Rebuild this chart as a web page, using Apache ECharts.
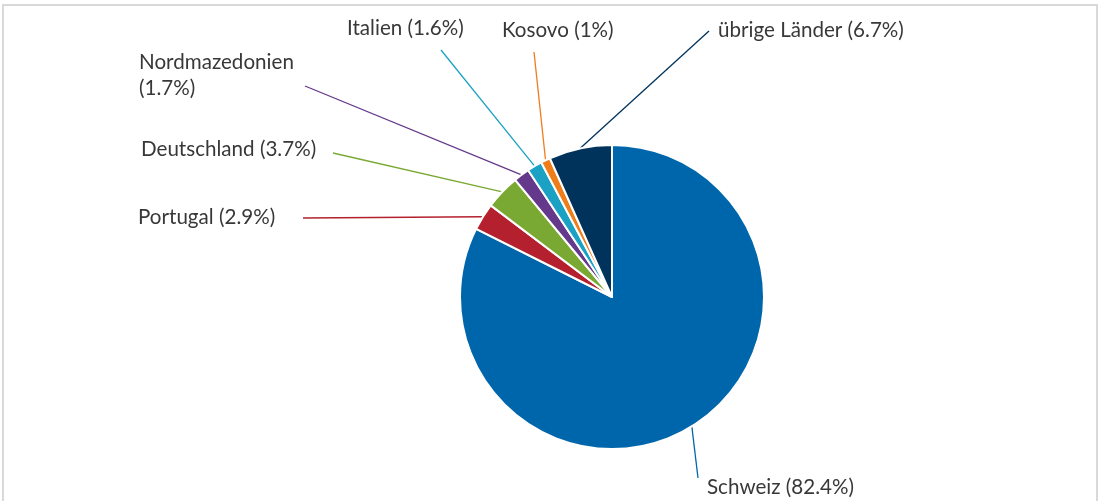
<!DOCTYPE html>
<html>
<head>
<meta charset="utf-8">
<script src="https://cdn.jsdelivr.net/npm/echarts@6/dist/echarts.min.js"></script>
<style>
  html, body { margin: 0; padding: 0; background: #fff; }
  #chart { width: 1105px; height: 501px; }
</style>
</head>
<body>
<div id="chart"></div>
<script>
// Anteile nach Land (%)
var laender = ['Schweiz', 'Portugal', 'Deutschland', 'Nordmazedonien', 'Italien', 'Kosovo', 'übrige Länder'];
var anteile = [82.4, 2.9, 3.7, 1.7, 1.6, 1, 6.7];
var farben = ['#0066AB', '#B5202E', '#79A932', '#64388B', '#1BA1C3', '#EE7D1A', '#00335B'];

// Beschriftungen: linke Kante / Mitte, Endpunkt der Führungslinie
var labelPos = [
    { x: 707, y: 487, lx: 698, ly: 478 },
    { x: 138, y: 217, lx: 303, ly: 218 },
    { x: 141, y: 149, lx: 333, ly: 153 },
    { x: 139, y: 75,  lx: 305, ly: 86 },
    { x: 347, y: 28,  lx: 441, ly: 50 },
    { x: 502, y: 30,  lx: 534, ly: 52 },
    { x: 718, y: 30,  lx: 709, ly: 31 }
];

var daten = [];
for (var i = 0; i < laender.length; i++) {
    daten.push({
        name: laender[i],
        value: anteile[i],
        itemStyle: { color: farben[i] },
        labelLine: { lineStyle: { color: farben[i] } }
    });
}

var myChart = echarts.init(document.getElementById('chart'));
var option = {
    animation: false,
    graphic: [{
        type: 'rect',
        shape: { x: 3, y: 5, width: 1094, height: 520 },
        style: { fill: 'none', stroke: '#d9d9d9', lineWidth: 2 },
        silent: true
    }],
    series: [{
        type: 'pie',
        center: [612, 297],
        radius: 152,
        startAngle: 90,
        clockwise: true,
        avoidLabelOverlap: false,
        itemStyle: { borderColor: '#fff', borderWidth: 2 },
        label: {
            show: true,
            fontFamily: 'Lato',
            fontSize: 20.6,
            color: '#383838',
            lineHeight: 26,
            formatter: function (p) {
                // Nordmazedonien auf zwei Zeilen
                return p.name + (p.dataIndex === 3 ? '\n' : ' ') + '(' + p.value + '%)';
            }
        },
        labelLine: { show: true, length: 10, length2: 10, lineStyle: { width: 1.3 } },
        labelLayout: function (params) {
            var pos = labelPos[params.dataIndex];
            var start = params.labelLinePoints ? params.labelLinePoints[0] : [pos.lx, pos.ly];
            return {
                x: pos.x,
                y: pos.y,
                align: 'left',
                verticalAlign: 'middle',
                labelLinePoints: [start, [pos.lx, pos.ly]]
            };
        },
        data: daten
    }]
};
myChart.setOption(option);
</script>
</body>
</html>
